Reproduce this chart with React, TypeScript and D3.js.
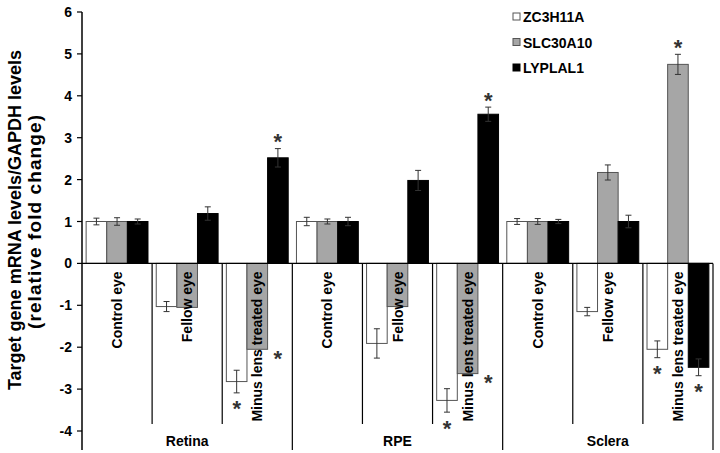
import React from "react";
import * as d3 from "d3";

const tissues = ["Retina", "RPE", "Sclera"];
const conditions = ["Control eye", "Fellow eye", "Minus lens treated eye"];
const seriesNames = ["ZC3H11A", "SLC30A10", "LYPLAL1"];

// values ordered: Retina(Control, Fellow, Minus), RPE(...), Sclera(...)
const zc3h11a = [1, -1.03, -2.82, 1, -1.91, -3.27, 1, -1.15, -2.05];
const zc3h11aErr = [0.08, 0.12, 0.27, 0.1, 0.35, 0.28, 0.07, 0.1, 0.2];
const slc30a10 = [1, -1.05, -2.05, 1, -1.03, -2.63, 1, 2.17, 4.75];
const slc30a10Err = [0.09, 0, 0, 0.06, 0, 0, 0.07, 0.18, 0.24];
const lyplal1 = [1, 1.19, 2.52, 1, 1.98, 3.56, 1, 1.0, -2.48];
const lyplal1Err = [0.06, 0.16, 0.22, 0.1, 0.24, 0.17, 0.05, 0.15, 0.2];
const significant = [false, false, true, false, false, true, false, false, true];

const yTicks = [6, 5, 4, 3, 2, 1, 0, -1, -2, -3, -4];

const W = 720;
const H = 453;
const FONT = "'Liberation Sans', Arial, Helvetica, sans-serif";
const fills = ["#ffffff", "#a6a6a6", "#000000"];
const strokes = ["#555555", "#555555", "#000000"];

export default function App() {
  const values = [zc3h11a, slc30a10, lyplal1];
  const errs = [zc3h11aErr, slc30a10Err, lyplal1Err];
  const cats = tissues.flatMap((t) => conditions.map((c) => `${t}|${c}`));

  const x = d3.scaleBand<string>().domain(cats).range([82, 713]).paddingInner(0).paddingOuter(0);
  const y = d3.scaleLinear().domain([-4, 6]).range([431, 12]);
  const inner = d3
    .scaleBand<string>()
    .domain(seriesNames)
    .range([0, x.bandwidth()])
    .paddingInner(0)
    .paddingOuter(0.2);
  const bw = inner.bandwidth();
  const y0 = y(0);

  const bars: React.ReactNode[] = [];
  const errorBars: React.ReactNode[] = [];
  const stars: React.ReactNode[] = [];

  cats.forEach((cat, i) => {
    seriesNames.forEach((s, si) => {
      const v = values[si][i];
      const e = errs[si][i];
      const bx = (x(cat) as number) + (inner(s) as number);
      const top = Math.min(y(v), y0);
      const h = Math.abs(y(v) - y0);
      bars.push(
        <rect
          key={`b-${i}-${si}`}
          x={bx}
          y={top}
          width={bw}
          height={h}
          fill={fills[si]}
          stroke={strokes[si]}
          strokeWidth={1}
        />
      );
      const cx = bx + bw / 2;
      if (e > 0) {
        const ya = y(v + e);
        const yb = y(v - e);
        errorBars.push(
          <g key={`e-${i}-${si}`} stroke="#333" strokeWidth={1}>
            <line x1={cx} x2={cx} y1={ya} y2={yb} />
            <line x1={cx - 3} x2={cx + 3} y1={ya} y2={ya} />
            <line x1={cx - 3} x2={cx + 3} y1={yb} y2={yb} />
          </g>
        );
      }
      if (significant[i]) {
        let sx = cx;
        let sy: number;
        if (v >= 0) {
          sy = y(v + e) - 12;
        } else if (e > 0) {
          sy = y(v - e) + 11;
        } else {
          sx = cx + bw;
          sy = y(v) + 4;
        }
        stars.push(
          <text
            key={`s-${i}-${si}`}
            x={sx}
            y={sy + 0.57 * 22}
            textAnchor="middle"
            fontSize={22}
            fontFamily={FONT}
            fontWeight="bold"
            fill="#333"
          >
            *
          </text>
        );
      }
    });
  });

  return (
    <svg
      width={W}
      height={H}
      style={{ position: "absolute", left: 0, top: 0, display: "block", background: "#fff" }}
    >
      <rect x={0} y={0} width={W} height={H} fill="#fff" />
      {/* y axis title */}
      <text
        transform={`translate(21,220) rotate(-90)`}
        textAnchor="middle"
        fontSize={18}
        fontWeight="bold"
        fontFamily={FONT}
        fill="#000"
      >
        Target gene mRNA levels/GAPDH levels
      </text>
      <text
        transform={`translate(41,222) rotate(-90)`}
        textAnchor="middle"
        fontSize={19}
        fontWeight="bold"
        fontFamily={FONT}
        fill="#000"
        textLength={214}
        lengthAdjust="spacing"
      >
        (relative fold change)
      </text>

      {/* y ticks */}
      {yTicks.map((t) => (
        <g key={`t-${t}`}>
          <line x1={77} x2={82} y1={y(t)} y2={y(t)} stroke="#000" strokeWidth={1.2} />
          <text
            x={72}
            y={y(t) + 5}
            textAnchor="end"
            fontSize={14}
            fontWeight="bold"
            fontFamily={FONT}
            fill="#000"
          >
            {t}
          </text>
        </g>
      ))}

      {bars}
      {errorBars}

      {/* zero line */}
      <line x1={82} x2={713} y1={y0} y2={y0} stroke="#000" strokeWidth={1.2} />
      {/* y axis */}
      <line x1={82} x2={82} y1={12} y2={450} stroke="#000" strokeWidth={1.5} />

      {/* dividers */}
      {cats.map((cat, i) => {
        const xr = (x(cat) as number) + x.bandwidth();
        const isGroupEnd = i % 3 === 2;
        return (
          <line
            key={`d-${i}`}
            x1={xr}
            x2={xr}
            y1={y0}
            y2={isGroupEnd ? 450 : 424}
            stroke="#000"
            strokeWidth={1.2}
          />
        );
      })}

      {/* category labels */}
      {cats.map((cat, i) => {
        const cx = (x(cat) as number) + x.bandwidth() / 2 + 5;
        return (
          <text
            key={`c-${i}`}
            transform={`translate(${cx},${y0 + 8}) rotate(-90)`}
            textAnchor="end"
            fontSize={14}
            fontWeight="bold"
            fontFamily={FONT}
            fill="#000"
          >
            {conditions[i % 3]}
          </text>
        );
      })}

      {/* group labels */}
      {tissues.map((t) => {
        const x0 = x(`${t}|${conditions[0]}`) as number;
        const x1 = (x(`${t}|${conditions[2]}`) as number) + x.bandwidth();
        return (
          <text
            key={`g-${t}`}
            x={(x0 + x1) / 2}
            y={446}
            textAnchor="middle"
            fontSize={14}
            fontWeight="bold"
            fontFamily={FONT}
            fill="#000"
          >
            {t}
          </text>
        );
      })}

      {stars}

      {/* legend */}
      {seriesNames.map((s, si) => (
        <g key={`l-${s}`} transform={`translate(513,${13 + si * 25.5})`}>
          <rect x={0} y={0} width={7} height={7} fill={fills[si]} stroke={strokes[si]} strokeWidth={1} />
          <text x={10} y={9} fontSize={14} fontWeight="bold" fontFamily={FONT} fill="#000">
            {s}
          </text>
        </g>
      ))}
    </svg>
  );
}
